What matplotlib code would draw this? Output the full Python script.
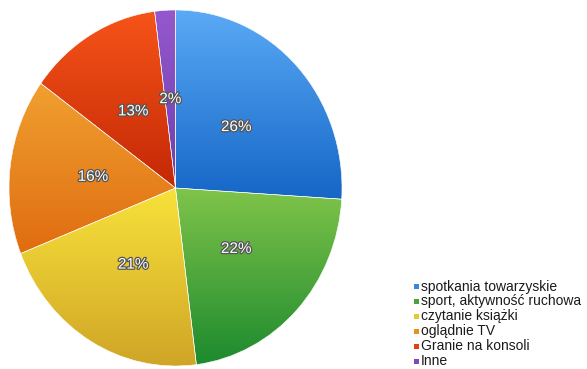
import numpy as np
import matplotlib.pyplot as plt
import matplotlib.patheffects as pe
from matplotlib.colors import LinearSegmentedColormap
from matplotlib.patches import Rectangle

plt.rcParams['font.family'] = ['Liberation Sans', 'DejaVu Sans']

labels = ['spotkania towarzyskie', 'sport, aktywność ruchowa', 'czytanie książki',
          'oglądnie TV', 'Granie na konsoli', 'Inne']
shares = [26, 22, 21, 16, 13, 2]
# (top, bottom) shades for each slice gradient
top_colors = ['#5aaaf6', '#80c44a', '#f8e23a', '#f0a030', '#f65418', '#9558cc']
bottom_colors = ['#1566c6', '#1c8a2e', '#cfa426', '#e06c10', '#c42806', '#6c3eae']
legend_colors = ['#3d85d8', '#4aa43a', '#e8c830', '#e8901c', '#e24010', '#8048bc']

fig = plt.figure(figsize=(5.87, 3.69), dpi=100)
ax = fig.add_axes([9 / 587, 3 / 369, 333 / 587, 356 / 369])
ax.axis('off')

wedges, texts, autotexts = ax.pie(
    shares, startangle=90, counterclock=False, radius=1,
    colors=legend_colors, autopct='%d%%', pctdistance=0.5,
    wedgeprops=dict(edgecolor='white', linewidth=0.4),
    textprops=dict(color='white', fontsize=11))
ax.set_aspect('auto')

# vertical gradient fill clipped to each wedge
for w, c0, c1 in zip(wedges, top_colors, bottom_colors):
    verts = w.get_path().vertices
    y0, y1 = verts[:, 1].min(), verts[:, 1].max()
    x0, x1 = verts[:, 0].min(), verts[:, 0].max()
    cmap = LinearSegmentedColormap.from_list('g', [c1, c0])
    grad = np.linspace(0, 1, 256).reshape(-1, 1)
    im = ax.imshow(grad, cmap=cmap, origin='lower', aspect='auto',
                   extent=[x0, x1, y0, y1], zorder=w.get_zorder() + 0.1)
    im.set_clip_path(w)
    w.set_facecolor('none')
    w.set_zorder(w.get_zorder() + 0.2)

for t in autotexts:
    t.set_zorder(10)
    t.set_path_effects([pe.withStroke(linewidth=1.8, foreground='#555555')])

ax.set_xlim(-1, 1)
ax.set_ylim(-1, 1)

# legend drawn as small squares with text
y_start, step = 286.5, 14.9
for i, (lab, col) in enumerate(zip(labels, legend_colors)):
    yp = y_start + i * step
    fig.patches.append(Rectangle((414 / 587, 1 - (yp + 2.5) / 369), 5 / 587, 5 / 369,
                                 transform=fig.transFigure, facecolor=col,
                                 edgecolor='none'))
    fig.text(421 / 587, 1 - yp / 369, lab, fontsize=10, color='#1a1a1a',
             va='center', ha='left')

fig.savefig('out.png', dpi=100)
